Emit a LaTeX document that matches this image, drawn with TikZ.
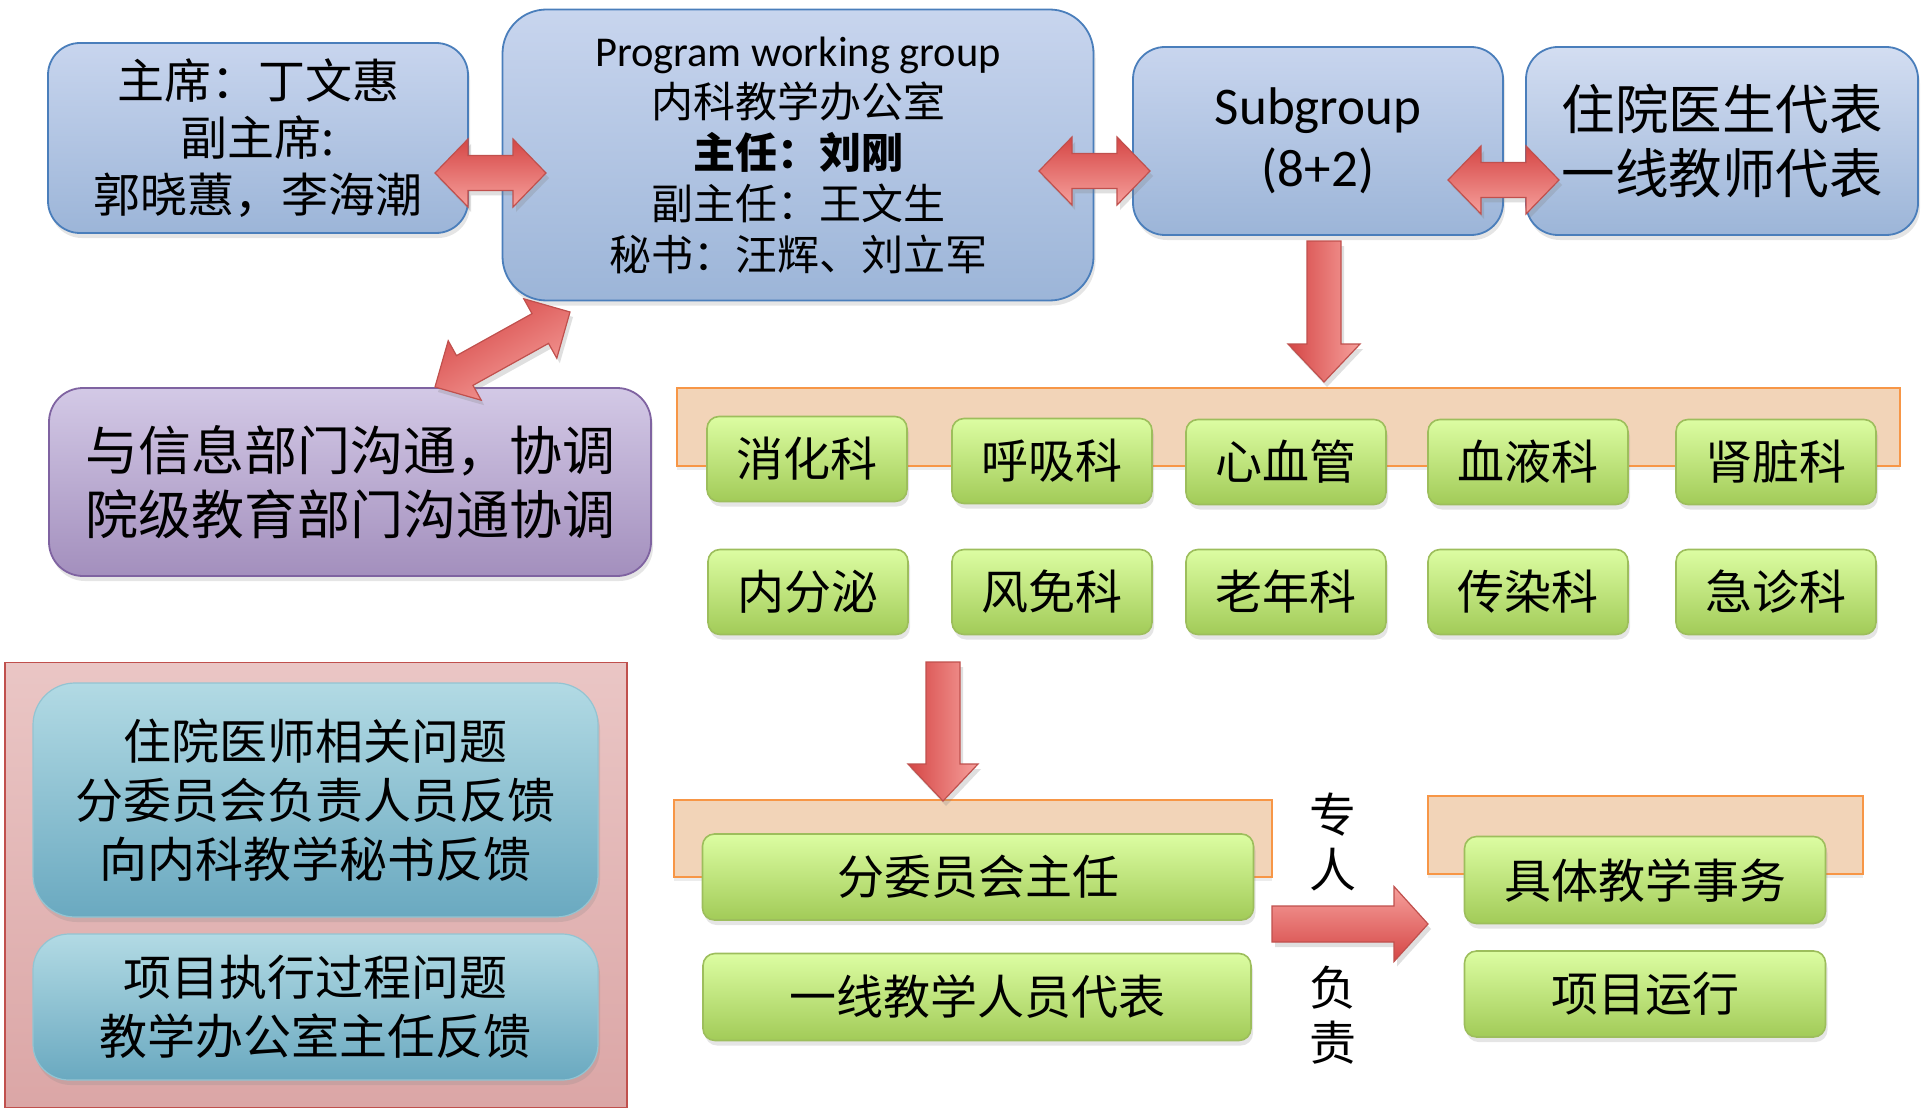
\documentclass[tikz,border=0pt]{standalone}
\usepackage{fontspec}
\setmainfont{Carlito}
\newfontfamily\cjk{Noto Sans CJK SC}
\usetikzlibrary{calc,shadows}
\definecolor{bluetop}{HTML}{C8D5EE}
\definecolor{bluebot}{HTML}{9CB5D8}
\definecolor{blueline}{HTML}{4A7EBB}
\definecolor{purptop}{HTML}{D3C9E6}
\definecolor{purpbot}{HTML}{A38FBD}
\definecolor{purpline}{HTML}{7F63A1}
\definecolor{greentop}{HTML}{DCFDA2}
\definecolor{greenbot}{HTML}{A2CB58}
\definecolor{greenline}{HTML}{9DBE5C}
\definecolor{tealtop}{HTML}{B2DAE4}
\definecolor{tealbot}{HTML}{6AA9C0}
\definecolor{tealline}{HTML}{93C4D2}
\definecolor{pinktop}{HTML}{EAC6C5}
\definecolor{pinkbot}{HTML}{DBA6A6}
\definecolor{pinkline}{HTML}{C0504D}
\definecolor{orfill}{HTML}{F2D4B8}
\definecolor{orline}{HTML}{F79646}
\definecolor{ardark}{HTML}{D54645}
\definecolor{arlight}{HTML}{F6A09C}
\definecolor{arline}{HTML}{C0504D}
\newcommand\dblarrowblk[6]{%
  \coordinate (tmpA) at ($(#2)!#4!(#3)$);
  \coordinate (tmpB) at ($(#3)!#4!(#2)$);
  \path[#1] (#2) -- ($(tmpA)!#5!90:(#3)$) -- ($(tmpA)!#6!90:(#3)$)
    -- ($(tmpB)!#6!90:(#3)$) -- ($(tmpB)!#5!90:(#3)$) -- (#3)
    -- ($(tmpB)!#5!-90:(#3)$) -- ($(tmpB)!#6!-90:(#3)$)
    -- ($(tmpA)!#6!-90:(#3)$) -- ($(tmpA)!#5!-90:(#3)$) -- cycle;}
\newcommand\sglarrowblk[6]{%
  \coordinate (tmpB) at ($(#3)!#4!(#2)$);
  \path[#1] ($(#2)!#6!90:(#3)$) -- ($(tmpB)!#6!90:(#3)$) -- ($(tmpB)!#5!90:(#3)$)
    -- (#3) -- ($(tmpB)!#5!-90:(#3)$) -- ($(tmpB)!#6!-90:(#3)$)
    -- ($(#2)!#6!-90:(#3)$) -- cycle;}
\begin{document}
\begin{tikzpicture}[x=1pt,y=-1pt,
  shad/.style={drop shadow={shadow xshift=2pt,shadow yshift=-5pt,opacity=0.2}},
  bluebox/.style={shad,draw=blueline,line width=1.8pt,top color=bluetop,bottom color=bluebot,align=center,inner sep=0pt},
  purpbox/.style={shad,draw=purpline,line width=1.8pt,top color=purptop,bottom color=purpbot,align=center,inner sep=0pt,rounded corners=34pt},
  greenbox/.style={shad,draw=greenline,line width=1.6pt,top color=greentop,bottom color=greenbot,align=center,inner sep=0pt,rounded corners=12pt,font={\cjk\fontsize{47}{57}\selectfont}},
  tealbox/.style={shad,draw=tealline,line width=1.2pt,top color=tealtop,bottom color=tealbot,align=center,inner sep=0pt,font={\cjk\fontsize{48}{59}\selectfont}},
  pinkbox/.style={draw=pinkline,line width=1.8pt,top color=pinktop,bottom color=pinkbot,inner sep=0pt},
  band/.style={draw=orline,line width=2.2pt,fill=orfill,inner sep=0pt,drop shadow={shadow xshift=0pt,shadow yshift=-4pt,opacity=0.15}},
  redarrow/.style={draw=arline,line width=1.2pt,drop shadow={shadow xshift=3pt,shadow yshift=-5pt,opacity=0.25}},
  lbl/.style={align=center,inner sep=0pt,font={\cjk\fontsize{47}{55}\selectfont}}]
\useasboundingbox (0,0) rectangle (1921,1110);
\fill[white] (0,0) rectangle (1921,1110);

% top row
\node[bluebox,rounded corners=32pt,minimum width=420pt,minimum height=190pt,font={\cjk\fontsize{47}{57}\selectfont}] (chair) at (258,138) {主席：丁文惠\\副主席:\\郭晓蕙，李海潮};
\node[bluebox,rounded corners=44pt,minimum width=591pt,minimum height=291pt,font={\fontsize{42.5}{51}\selectfont}] (pwg) at (798,155)
  {Program working group\\{\cjk\fontsize{42}{51}\selectfont 内科教学办公室}\\{\cjk\bfseries\fontsize{42}{51}\selectfont 主任：刘刚}\\{\cjk\fontsize{42}{51}\selectfont 副主任：王文生}\\{\cjk\fontsize{42}{51}\selectfont 秘书：汪辉、刘立军}};
\node[bluebox,rounded corners=32pt,minimum width=370pt,minimum height=188pt,font={\fontsize{53}{62}\selectfont}] (sub) at (1318,141) {Subgroup\\(8+2)};
\node[bluebox,rounded corners=32pt,minimum width=392pt,minimum height=188pt,top color=bluetop!80!white,font={\cjk\fontsize{53.5}{64}\selectfont}] (rep) at (1722,141) {住院医生代表\\一线教师代表};

% purple
\node[purpbox,minimum width=602pt,minimum height=188pt,font={\cjk\fontsize{53}{64}\selectfont}] (info) at (350,482) {与信息部门沟通，协调\\院级教育部门沟通协调};

% department band
\node[band,minimum width=1223pt,minimum height=78pt] (band1) at (1288.5,427) {};
\node[greenbox,minimum width=200pt,minimum height=85pt] (d1) at (807,459) {消化科};
\node[greenbox,minimum width=200pt,minimum height=85pt] (d2) at (1052,461) {呼吸科};
\node[greenbox,minimum width=200pt,minimum height=85pt] (d3) at (1286,462) {心血管};
\node[greenbox,minimum width=200pt,minimum height=85pt] (d4) at (1528,462) {血液科};
\node[greenbox,minimum width=200pt,minimum height=85pt] (d5) at (1776,462) {肾脏科};
\node[greenbox,minimum width=200pt,minimum height=85pt] (d6) at (808,592) {内分泌};
\node[greenbox,minimum width=200pt,minimum height=85pt] (d7) at (1052,592) {风免科};
\node[greenbox,minimum width=200pt,minimum height=85pt] (d8) at (1286,592) {老年科};
\node[greenbox,minimum width=200pt,minimum height=85pt] (d9) at (1528,592) {传染科};
\node[greenbox,minimum width=200pt,minimum height=85pt] (d10) at (1776,592) {急诊科};

% lower middle
\node[band,minimum width=598pt,minimum height=77pt] (band2) at (973,838.5) {};
\node[greenbox,minimum width=551pt,minimum height=86pt] (chief) at (978,877) {分委员会主任};
\node[greenbox,minimum width=548pt,minimum height=87pt] (line) at (977,997) {一线教学人员代表};
\node[band,minimum width=435pt,minimum height=78pt] (band3) at (1645.5,835) {};
\node[greenbox,minimum width=361pt,minimum height=87pt] (affair) at (1645,880) {具体教学事务};
\node[greenbox,minimum width=361pt,minimum height=86pt] (run) at (1645,994) {项目运行};
\node[lbl] (zr) at (1333,842) {专\\人};
\node[lbl] (fz) at (1333,1015) {负\\责};

% left bottom
\node[pinkbox,minimum width=622pt,minimum height=445pt] (fb) at (316,885) {};
\node[tealbox,rounded corners=42pt,minimum width=565pt,minimum height=234pt] (q1) at (315.5,800) {住院医师相关问题\\分委员会负责人员反馈\\向内科教学秘书反馈};
\node[tealbox,rounded corners=36pt,minimum width=565pt,minimum height=146pt] (q2) at (315.5,1007) {项目执行过程问题\\教学办公室主任反馈};

% arrows
\coordinate (ab1) at (435,173);  \coordinate (ab2) at (546,173);
\coordinate (bc1) at (1039,171); \coordinate (bc2) at (1150,171);
\coordinate (cd1) at (1448,180); \coordinate (cd2) at (1559,180);
\coordinate (dg1) at (435,387);  \coordinate (dg2) at (570,312);
\coordinate (v1s) at (1324,241); \coordinate (v1e) at (1324,382);
\coordinate (v2s) at (943,662);  \coordinate (v2e) at (943,801);
\coordinate (h1s) at (1272,924); \coordinate (h1e) at (1428,924);
\dblarrowblk{redarrow,top color=ardark,bottom color=arlight}{ab1}{ab2}{33pt}{34pt}{17.5pt}
\dblarrowblk{redarrow,top color=ardark,bottom color=arlight}{bc1}{bc2}{33pt}{34pt}{17.5pt}
\dblarrowblk{redarrow,top color=ardark,bottom color=arlight}{cd1}{cd2}{33pt}{34pt}{17.5pt}
\dblarrowblk{redarrow,top color=ardark,bottom color=arlight,shading angle=30}{dg1}{dg2}{34pt}{34pt}{17pt}
\sglarrowblk{redarrow,left color=ardark,right color=arlight}{v1s}{v1e}{38pt}{36pt}{17pt}
\sglarrowblk{redarrow,left color=ardark,right color=arlight}{v2s}{v2e}{37pt}{35pt}{17pt}
\sglarrowblk{redarrow,top color=arlight,bottom color=ardark}{h1s}{h1e}{34pt}{37.5pt}{18pt}
\end{tikzpicture}
\end{document}
